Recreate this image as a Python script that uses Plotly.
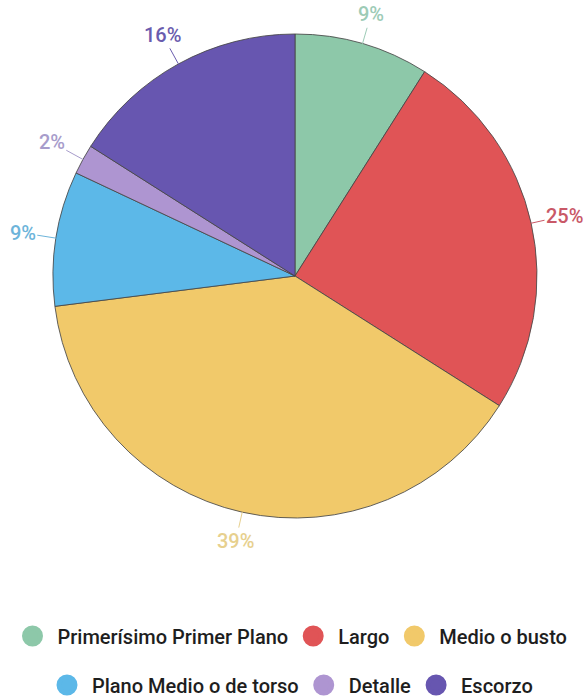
import math
import plotly.graph_objects as go

labels = ["Primerísimo Primer Plano", "Largo", "Medio o busto",
          "Plano Medio o de torso", "Detalle", "Escorzo"]
values = [9, 25, 39, 9, 2, 16]
slice_colors = ["#8DC8A9", "#E05456", "#F1C96A", "#5CB8E8", "#AE95D1", "#6756B0"]
label_colors = ["#9DCBB6", "#C95867", "#E7D08E", "#6DB4DA", "#A79CCB", "#6A5CAE"]

W, H = 585, 697
CX, CY, R = 295, 276, 242

fig = go.Figure()
fig.add_trace(go.Pie(
    labels=labels, values=values, sort=False, direction="clockwise", rotation=0,
    marker=dict(colors=slice_colors, line=dict(color="rgba(70,70,70,0.85)", width=1)),
    textinfo="none", hoverinfo="label+percent", showlegend=False,
    domain=dict(x=[(CX - R) / W, (CX + R) / W], y=[1 - (CY + R) / H, 1 - (CY - R) / H]),
))

# legend entries (circle markers)
for i, (lab, col) in enumerate(zip(labels, slice_colors)):
    fig.add_trace(go.Scatter(
        x=[None], y=[None], mode="markers", name="\u00a0" + lab,
        marker=dict(color=col, size=16, symbol="circle", line=dict(color=col, width=5)),
        legend="legend" if i < 3 else "legend2", hoverinfo="skip",
    ))

# percentage labels with leader lines, positioned from data angles
total = sum(values)
cum = 0
annotations = []
for v, col in zip(values, label_colors):
    mid = (cum + v / 2) / total * 2 * math.pi
    cum += v
    s, c = math.sin(mid), math.cos(mid)
    px = CX + R * s
    py = CY - R * c
    d = 14 + 18 * abs(s) + 12 * abs(c)
    annotations.append(dict(
        x=px / W, y=1 - py / H, xref="paper", yref="paper",
        text=f"{round(v / total * 100)}%", showarrow=True, arrowhead=0,
        arrowwidth=1, arrowcolor=col, standoff=0,
        ax=d * s, ay=-d * c,
        font=dict(family="Roboto", size=20, color=col, weight=500),
    ))

legend_common = dict(orientation="h", xanchor="center", x=0.5, yanchor="middle",
                     font=dict(family="Roboto", size=20, color="#1E1E1E", weight=500),
                     bgcolor="rgba(0,0,0,0)", itemclick=False, itemdoubleclick=False)

fig.update_layout(
    width=W, height=H, margin=dict(l=0, r=0, t=0, b=0, autoexpand=False),
    paper_bgcolor="white", plot_bgcolor="white",
    xaxis=dict(visible=False), yaxis=dict(visible=False),
    annotations=annotations,
    legend=dict(y=1 - 636 / H, **legend_common),
    legend2=dict(y=1 - 685 / H, **legend_common),
    showlegend=True,
)

fig.write_html("out.html")
